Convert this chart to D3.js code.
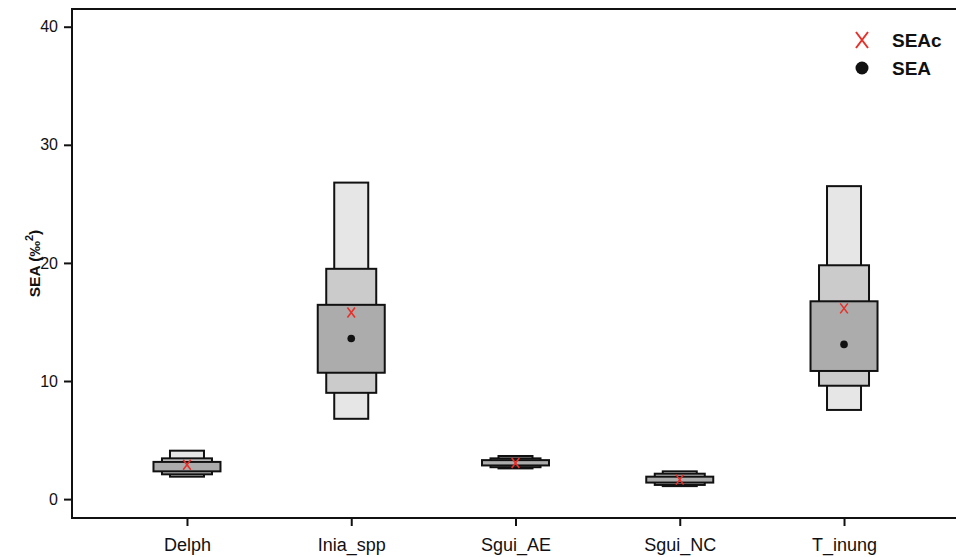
<!DOCTYPE html>
<html>
<head>
<meta charset="utf-8">
<script src="https://cdn.jsdelivr.net/npm/d3@7"></script>
<style>
  body { margin: 0; background: #fff; }
  text { font-family: "Liberation Sans", Arial, sans-serif; }
</style>
</head>
<body>
<div class="chart"></div>
<script>
// groups on the x axis
const groups = ["Delph", "Inia_spp", "Sgui_AE", "Sgui_NC", "T_inung"];

// credible intervals of the SEA posterior (widest interval first)
const ci95Low  = [1.9, 6.8, 2.6, 1.1, 7.55];
const ci95High = [4.1, 26.8, 3.65, 2.35, 26.5];
const ci75Low  = [2.1, 9.0, 2.7, 1.2, 9.6];
const ci75High = [3.45, 19.5, 3.45, 2.15, 19.8];
const ci50Low  = [2.35, 10.7, 2.85, 1.4, 10.85];
const ci50High = [3.15, 16.45, 3.3, 1.9, 16.75];

// point estimates (SEA dot hidden under the cross for the small groups)
const seaC = [2.9, 15.8, 3.05, 1.65, 16.15];
const sea  = [null, 13.6, null, null, 13.1];

const yTicks = [0, 10, 20, 30, 40];

const w = 956;
const h = 557;
const plotLeft = 72, plotTop = 9, plotRight = 959, plotBottom = 518;

const svg = d3.select(".chart")
    .append("svg")
    .attr("width", w)
    .attr("height", h);

const xScale = d3.scalePoint()
    .domain(groups)
    .range([plotLeft, plotRight])
    .padding(0.7);

const yScale = d3.scaleLinear()
    .domain([-1.6, 41.5])
    .range([plotBottom, plotTop]);

// boxes: narrowest box for the widest interval, drawn first
const layers = [
    { lo: ci95Low, hi: ci95High, width: 34, fill: "#e6e6e6" },
    { lo: ci75Low, hi: ci75High, width: 50, fill: "#cbcbcb" },
    { lo: ci50Low, hi: ci50High, width: 67, fill: "#acacac" },
];

layers.forEach(layer => {
    svg.append("g")
        .selectAll("rect")
        .data(groups)
        .enter()
        .append("rect")
        .attr("x", d => xScale(d) - layer.width / 2)
        .attr("width", layer.width)
        .attr("y", (d, i) => yScale(layer.hi[i]))
        .attr("height", (d, i) => yScale(layer.lo[i]) - yScale(layer.hi[i]))
        .attr("fill", layer.fill)
        .attr("stroke", "#111")
        .attr("stroke-width", 2);
});

// SEA dots
svg.append("g")
    .selectAll("circle")
    .data(groups.filter((d, i) => sea[i] !== null))
    .enter()
    .append("circle")
    .attr("cx", d => xScale(d))
    .attr("cy", d => yScale(sea[groups.indexOf(d)]))
    .attr("r", 3.8)
    .attr("fill", "#111");

// SEAc crosses
const cross = (cx, cy, hw, hh) =>
    `M${cx - hw},${cy - hh}L${cx + hw},${cy + hh}M${cx + hw},${cy - hh}L${cx - hw},${cy + hh}`;

svg.append("g")
    .selectAll("path")
    .data(groups)
    .enter()
    .append("path")
    .attr("d", (d, i) => cross(xScale(d), yScale(seaC[i]), 3.8, 5))
    .attr("stroke", "#e8302a")
    .attr("stroke-width", 1.6)
    .attr("fill", "none");

// axes
const yAxis = d3.axisLeft(yScale)
    .tickValues(yTicks)
    .tickSize(8)
    .tickPadding(6)
    .tickSizeOuter(0);

const gy = svg.append("g")
    .attr("transform", "translate(" + plotLeft + ",0)")
    .call(yAxis);
gy.select(".domain").remove();
gy.selectAll("line").attr("stroke", "#111").attr("stroke-width", 2);
gy.selectAll("text")
    .attr("font-size", 16)
    .attr("fill", "#111")
    .style("font-family", "'Liberation Sans', Arial, sans-serif");

const xAxis = d3.axisBottom(xScale)
    .tickSize(8)
    .tickPadding(12)
    .tickSizeOuter(0);

const gx = svg.append("g")
    .attr("transform", "translate(0," + plotBottom + ")")
    .call(xAxis);
gx.select(".domain").remove();
gx.selectAll("line").attr("stroke", "#111").attr("stroke-width", 2);
gx.selectAll("text")
    .attr("font-size", 18)
    .attr("fill", "#111")
    .style("font-family", "'Liberation Sans', Arial, sans-serif");

// frame
svg.append("rect")
    .attr("x", plotLeft)
    .attr("y", plotTop)
    .attr("width", plotRight - plotLeft)
    .attr("height", plotBottom - plotTop)
    .attr("fill", "none")
    .attr("stroke", "#111")
    .attr("stroke-width", 2);

// y label
const yLabel = svg.append("text")
    .attr("transform", "translate(40," + (plotTop + plotBottom) / 2 + ") rotate(-90)")
    .attr("text-anchor", "middle")
    .attr("font-size", 15.5)
    .attr("font-weight", "bold")
    .attr("fill", "#111");
yLabel.append("tspan").text("SEA (‰");
yLabel.append("tspan").attr("font-size", 11).attr("dy", -7).text("2");
yLabel.append("tspan").attr("dy", 7).text(")");

// legend
const legend = svg.append("g");
legend.append("path")
    .attr("d", cross(862, 40, 6, 8))
    .attr("stroke", "#e8302a")
    .attr("stroke-width", 2)
    .attr("fill", "none");
legend.append("circle")
    .attr("cx", 862)
    .attr("cy", 68)
    .attr("r", 6.5)
    .attr("fill", "#111");
legend.selectAll("text")
    .data(["SEAc", "SEA"])
    .enter()
    .append("text")
    .attr("x", 892)
    .attr("y", (d, i) => 47 + i * 28)
    .attr("font-size", 19)
    .attr("font-weight", "bold")
    .attr("fill", "#111")
    .text(d => d);
</script>
</body>
</html>
